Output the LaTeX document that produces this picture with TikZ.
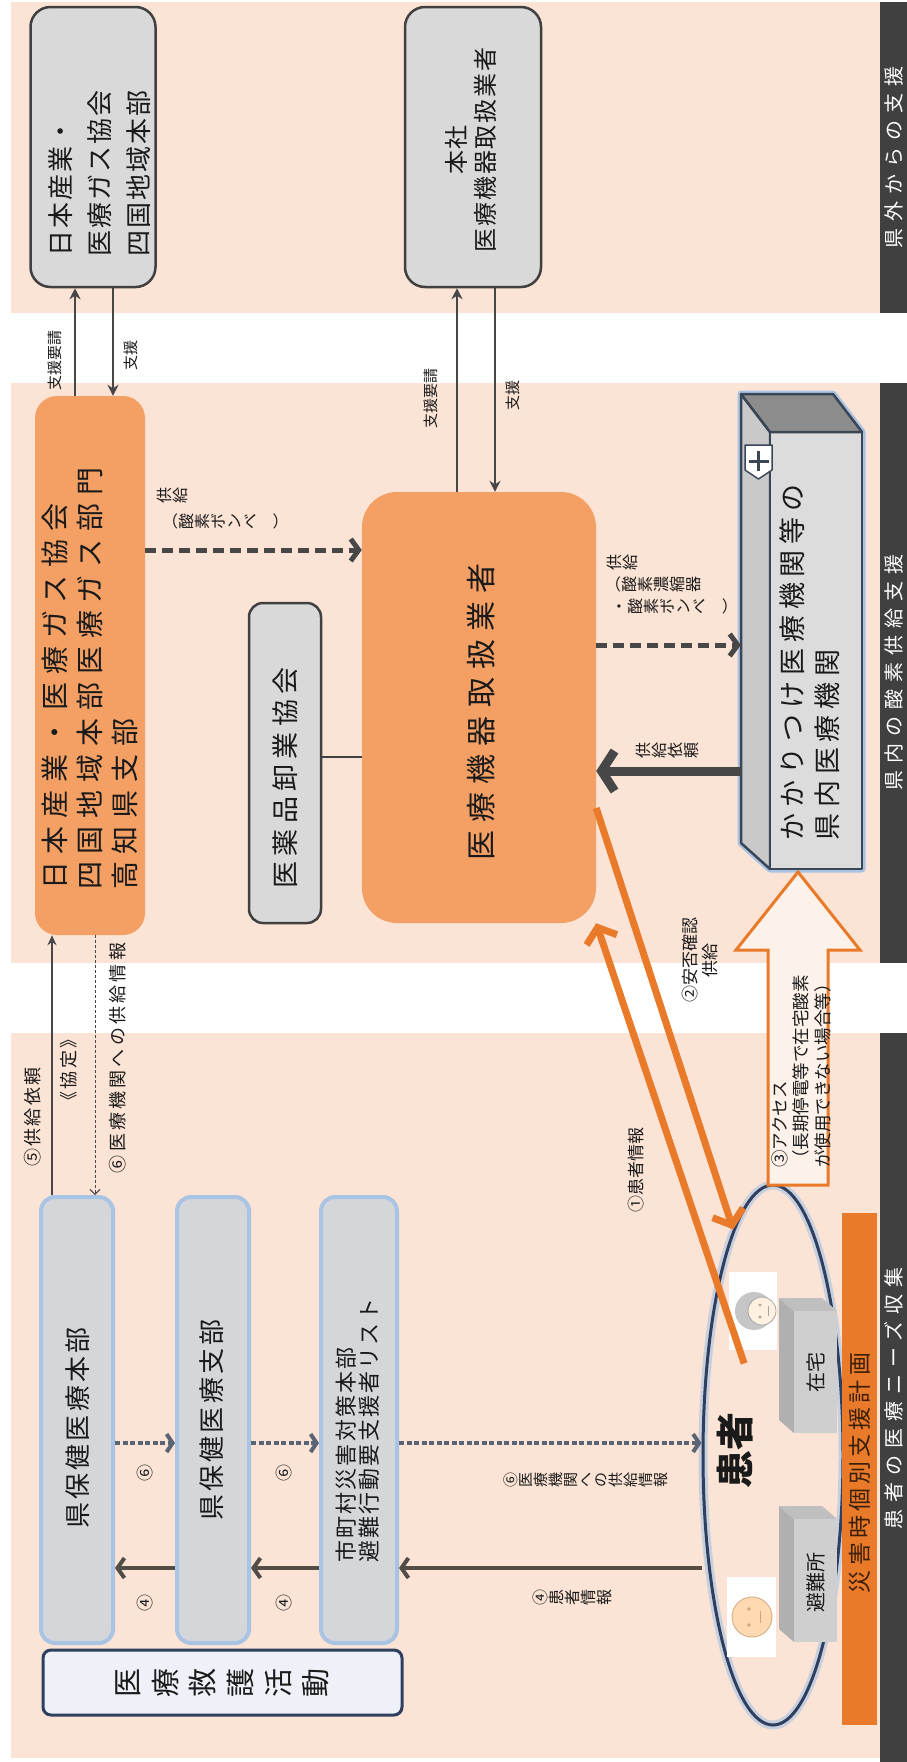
\documentclass[tikz,border=0pt]{standalone}
\usepackage{fontspec}
\usepackage{graphicx}
\setmainfont{Noto Sans CJK JP}
\usetikzlibrary{arrows.meta,calc,shapes.geometric}

\definecolor{peach}{HTML}{FBE4D5}
\definecolor{band}{HTML}{404040}
\definecolor{orbox}{HTML}{F4A064}
\definecolor{orline}{HTML}{E87A2A}
\definecolor{grbox}{HTML}{D9D9D9}
\definecolor{grline}{HTML}{404040}
\definecolor{bluebox}{HTML}{D4D6DA}
\definecolor{blueedge}{HTML}{A9C3E3}
\definecolor{navy}{HTML}{2F3F5F}
\definecolor{hospedge}{HTML}{3A4656}
\definecolor{hosptop}{HTML}{8C8C8C}
\definecolor{hospside}{HTML}{C9C9C9}
\definecolor{hospfront}{HTML}{DCDCDC}
\definecolor{darkarrow}{HTML}{474747}
\definecolor{slate}{HTML}{5A6474}
\definecolor{kfill}{HTML}{EEF1F7}
\definecolor{txt}{HTML}{1A1A1A}
\definecolor{bartext}{HTML}{3A1F0A}

% font size with line skip, letter spacing
\newcommand\fs[2]{\fontsize{#1pt}{#2pt}\selectfont}
\newcommand\lsp[1]{\addfontfeatures{LetterSpace=#1}}
% one glyph turned a quarter; brackets for vertical columns
\newcommand\rg[1]{\rotatebox{90}{#1}}
\newcommand\vop{\rotatebox{-90}{（}}
\newcommand\vcl{\rotatebox{-90}{）}}

\tikzset{
  vtxt/.style={rotate=90, inner sep=0pt, text=txt},
  vcol/.style={rotate=90, inner sep=0pt, text=txt, anchor=north, align=center},
  rtxt/.style={inner sep=0pt, text=txt},
  hdr/.style={rotate=90, inner sep=0pt, text=white, font={\fs{20}{20}\lsp{35}}},
  gbox/.style={draw=grline, line width=2.5pt, fill=grbox},
  obox/.style={fill=orbox},
  bbox/.style={draw=blueedge, line width=4pt, fill=bluebox, rounded corners=14pt,
               minimum height=446pt},
  supline/.style={draw=darkarrow, line width=2.5pt, -{Stealth[length=11pt,width=11pt]}},
  thickdash/.style={draw=darkarrow, line width=5pt, dash pattern=on 11pt off 6pt,
                    -{Straight Barb[length=8pt,width=22pt]}},
  bigarrow/.style={draw=darkarrow, line width=9pt, -{Straight Barb[length=13pt,width=40pt]}},
  orarrow/.style={draw=orline, line width=7pt, -{Straight Barb[length=13pt,width=32pt]}},
  infodash/.style={draw=slate, line width=4pt, dash pattern=on 5pt off 2.5pt,
                   -{Straight Barb[length=6pt,width=18pt]}},
  infoline/.style={draw=darkarrow!90!brown, line width=4pt, -{Straight Barb[length=7pt,width=20pt]}},
  thinline/.style={draw=darkarrow, line width=2pt, -{Stealth[length=10pt,width=9pt]}},
  thindash/.style={draw=darkarrow, line width=1pt, dash pattern=on 3pt off 2pt,
                   -{Straight Barb[length=5pt,width=10pt]}},
}

\begin{document}
\begin{tikzpicture}[x=1pt,y=-1pt]
\useasboundingbox (0,0) rectangle (907,1762);
\fill[white] (0,0) rectangle (907,1762);

% ---- three bands with their headings ----
\fill[peach] (11,2) rectangle (880,313);
\fill[peach] (11,383) rectangle (880,963);
\fill[peach] (11,1033) rectangle (880,1758);
\fill[band] (880,2) rectangle (907,313);
\fill[band] (880,383) rectangle (907,963);
\fill[band] (880,1033) rectangle (907,1762);
\node[hdr] (hdrout) at (894,157) {県外からの支援};
\node[hdr] (hdrin) at (894,672) {県内の酸素供給支援};
\node[hdr] (hdrneed) at (894,1398) {患者の医療ニーズ収集};

% ---- support from outside the prefecture ----
\node[gbox, rounded corners=20pt, minimum width=125pt, minimum height=280pt] (A) at (93,147) {};
\node[vtxt, anchor=west, align=left, font={\fs{26}{39}\lsp{8}}] (At) at (100,257)
  {日本産業・\\医療ガス協会\\四国地域本部};
\node[gbox, rounded corners=20pt, minimum width=136pt, minimum height=280pt] (B) at (473,147) {};
\node[vtxt, align=center, font={\fs{24}{29}\lsp{8}}] (Bt) at (471,150)
  {本社\\医療機器取扱業者};

% ---- oxygen supply inside the prefecture ----
\node[obox, rounded corners=22pt, minimum width=110pt, minimum height=539pt] (C) at (90,665.5) {};
\node[vtxt, anchor=west, align=left, font={\fs{28}{35}\lsp{28}}] (Ct) at (90,890)
  {日本産業・医療ガス協会\\四国地域本部医療ガス部門\\高知県支部};
\node[gbox, rounded corners=14pt, minimum width=72pt, minimum height=320pt] (E) at (285,763) {};
\node[vtxt, font={\fs{27}{27}\lsp{20}}] (Et) at (285,778) {医薬品卸業協会};
\node[obox, rounded corners=35pt, minimum width=234pt, minimum height=431pt] (D) at (479,707.5) {};
\node[vtxt, font={\fs{30}{30}\lsp{27}}] (Dt) at (481,712) {医療機器取扱業者};

% hospital block
\node[inner sep=0pt, minimum width=121pt, minimum height=475pt] (F) at (801.5,631.5) {};
\draw[blueedge, line width=7pt, line join=round]
  (741,394) -- (833,394) -- (862,432) -- (862,869) -- (770,869) -- (741,843) -- cycle;
\begin{scope}[draw=hospedge, line width=2.5pt, line join=round]
  \filldraw[fill=hospside] (741,394) -- (770,432) -- (770,869) -- (741,843) -- cycle;
  \filldraw[fill=hospfront] (770,432) rectangle (862,869);
  \filldraw[fill=hosptop] (741,394) -- (833,394) -- (862,432) -- (770,432) -- cycle;
  \filldraw[fill=white, line width=1.5pt] (745,445) -- (772,445) -- (772,470) -- (758.5,479) -- (745,470) -- cycle;
  \draw[line width=3pt] (758.5,451) -- (758.5,471) (748.5,461) -- (768.5,461);
\end{scope}
\node[vtxt, anchor=west, align=left, font={\fs{27}{35}\lsp{22}}] (Ft) at (810,841)
  {かかりつけ医療機関等の\\県内医療機関};

% ---- patients' medical needs ----
\node[bbox, minimum width=72pt] (H1) at (77,1420) {};
\node[bbox, minimum width=72pt] (H2) at (213,1420) {};
\node[bbox, minimum width=76pt] (H3) at (359,1420) {};
\node[vtxt, font={\fs{26}{26}\lsp{12}}] (H1t) at (78,1428) {県保健医療本部};
\node[vtxt, font={\fs{26}{26}\lsp{12}}] (H2t) at (212,1420) {県保健医療支部};
\node[vtxt, anchor=west, align=left, font={\fs{22}{23}\lsp{10}}] (H3t) at (358,1563)
  {市町村災害対策本部\\避難行動要支援者リスト};
\node[draw=navy, line width=3pt, fill=kfill, rounded corners=8pt,
      minimum width=359pt, minimum height=65pt, font={\fs{29}{29}}, text=txt] (K) at (222.5,1682.5)
  {\rg{医}\hspace{11pt}\rg{療}\hspace{11pt}\rg{救}\hspace{11pt}\rg{護}\hspace{11pt}\rg{活}\hspace{11pt}\rg{動}};

% patients
\node[ellipse, draw=navy, line width=3pt, inner sep=0pt, minimum width=140pt, minimum height=540pt,
      preaction={draw=blueedge, line width=9pt, opacity=0.6}] (P) at (773,1455) {};
\node[fill=orline, inner sep=0pt, minimum width=35pt, minimum height=512pt] (bar) at (859.5,1469) {};
\node[vtxt, text=bartext, font={\fs{23}{23}\lsp{18}}] (bart) at (860,1473) {災害時個別支援計画};

% home and shelter blocks
\fill[gray!62] (779,1298) -- (794,1311) -- (794,1433) -- (779,1420) -- cycle;
\fill[gray!50] (779,1298) -- (822,1298) -- (837,1311) -- (794,1311) -- cycle;
\fill[gray!38] (794,1311) rectangle (837,1433);
\fill[gray!62] (779,1506) -- (794,1519) -- (794,1642) -- (779,1629) -- cycle;
\fill[gray!50] (779,1506) -- (822,1506) -- (837,1519) -- (794,1519) -- cycle;
\fill[gray!38] (794,1519) rectangle (837,1642);
\node[vtxt, font={\fs{20}{20}}] (home) at (816,1372) {在宅};
\node[vtxt, font={\fs{20}{20}}] (shelter) at (816,1582) {避難所};
\node[vtxt, font={\bfseries\fs{38}{38}}] (Pt) at (735,1450) {患者};

% two faces
\fill[white] (729,1272) rectangle (777,1350);
\fill[gray!45] (754,1311) circle[radius=19];
\filldraw[fill=orange!12, draw=gray!70, line width=0.8pt] (762,1311) circle[radius=14];
\fill[gray!70] (760,1305) circle[radius=1.6] (760,1317) circle[radius=1.6];
\draw[gray!70, line width=1pt] (768,1306) -- (768,1316);
\fill[white] (727,1577) rectangle (776,1657);
\filldraw[fill=orange!30, draw=brown!60, line width=1pt] (752,1617) circle[radius=20];
\fill[brown!70] (749,1609) circle[radius=1.8] (749,1625) circle[radius=1.8];
\draw[brown!70, line width=1pt] (760,1611) -- (760,1623);

% ---- connectors ----
\draw[supline] (C.north -| 75,0) -- (A.south -| 75,0);
\draw[supline] (A.south -| 113,0) -- (C.north -| 113,0);
\draw[supline] (D.north -| 457,0) -- (B.south -| 457,0);
\draw[supline] (B.south -| 495,0) -- (D.north -| 495,0);
\node[vtxt, font={\fs{15}{15}}] (lreqA) at (55,360) {支援要請};
\node[vtxt, font={\fs{15}{15}}] (lsupA) at (131,355) {支援};
\node[vtxt, font={\fs{15}{15}}] (lreqB) at (431,398) {支援要請};
\node[vtxt, font={\fs{15}{15}}] (lsupB) at (513,395) {支援};

\draw[thickdash] (C.east |- 0,550) -- (D.west |- 0,550);
\node[vcol, font={\fs{16}{16}}] (lCD1) at (157,495) {供\\給};
\node[vcol, font={\fs{16}{16}}] (lCD2) at (162,521) {\vop\\酸\\素\\ボ\\ン\\ベ\\\vcl};
\draw[thickdash] (D.east |- 0,645) -- (F.west |- 0,645);
\node[vcol, font={\fs{16}{16}}] (lDF1) at (607,562) {供\\給};
\node[vcol, font={\fs{16}{16}}] (lDF2) at (605,584) {\vop\\酸\\素\\濃\\縮\\器};
\node[vcol, font={\fs{16}{16}}] (lDF3) at (618,606) {・\\酸\\素\\ボ\\ン\\ベ\\\vcl};
\draw[line width=1.5pt, grline] (E.east |- 0,757) -- (D.west |- 0,757);
\draw[bigarrow] (F.west |- 0,771) -- (D.east |- 0,771);
\node[vcol, font={\fs{16}{16}}] (lFD) at (636,750) {供\\給\\依\\頼};

\draw[orarrow] ($(D.south east)!1.22!(P.108)$) -- (D.south east);
\draw[orarrow] (D.east |- 0,808) -- (P.100);
\node[vtxt, font={\fs{17}{17}}] (l1) at (636,1170) {①患者情報};
\node[vtxt, align=center, font={\fs{17}{20}}] (l2) at (700,960) {②安否確認\\供給};

% hollow access arrow from the patients up to the hospital
\filldraw[draw=orline, line width=3pt, fill=peach!50, line join=miter]
  (768,1185) -- (768,950) -- (736,950) -- (798,872) -- (860,950) -- (828,950) -- (828,1185) -- cycle;
\node[vtxt, anchor=west, align=left, font={\fs{17.5}{21.5}}] (l3) at (801,1168)
  {③アクセス\\（長期停電等で在宅酸素\\が使用できない場合等）};

\draw[thinline] (H1.north -| 52,0) -- (C.south -| 52,0);
\draw[thindash] (C.south -| 95,0) -- (H1.north -| 95,0);
\node[vtxt, font={\fs{18}{18}\lsp{12}}] (l5) at (33,1117) {⑤供給依頼};
\node[vtxt, font={\fs{18}{18}\lsp{12}}] (lag) at (69,1070) {《協定》};
\node[vtxt, font={\fs{18}{18}\lsp{18}}] (l6) at (118,1058) {⑥医療機関への供給情報};

\draw[infodash] (H1.east |- 0,1443) -- (H2.west |- 0,1443);
\draw[infodash] (H2.east |- 0,1443) -- (H3.west |- 0,1443);
\draw[infodash] (H3.east |- 0,1443) -- (P.west |- 0,1443);
\draw[infoline] (H2.west |- 0,1568) -- (H1.east |- 0,1568);
\draw[infoline] (H3.west |- 0,1568) -- (H2.east |- 0,1568);
\draw[infoline] (P.west |- 0,1568) -- (H3.east |- 0,1568);
\node[vtxt, font={\fs{17}{17}}] (n6a) at (145,1473) {⑥};
\node[vtxt, font={\fs{17}{17}}] (n6b) at (284,1473) {⑥};
\node[vtxt, font={\fs{17}{17}}] (n4a) at (145,1603) {④};
\node[vtxt, font={\fs{17}{17}}] (n4b) at (284,1603) {④};
\node[vcol, font={\fs{15}{15}}] (l6b) at (504,1480) {⑥\\医\\療\\機\\関\\へ\\の\\供\\給\\情\\報};
\node[vcol, font={\fs{16}{16}}] (l4) at (533,1597) {④\\患\\者\\情\\報};
\end{tikzpicture}
\end{document}
